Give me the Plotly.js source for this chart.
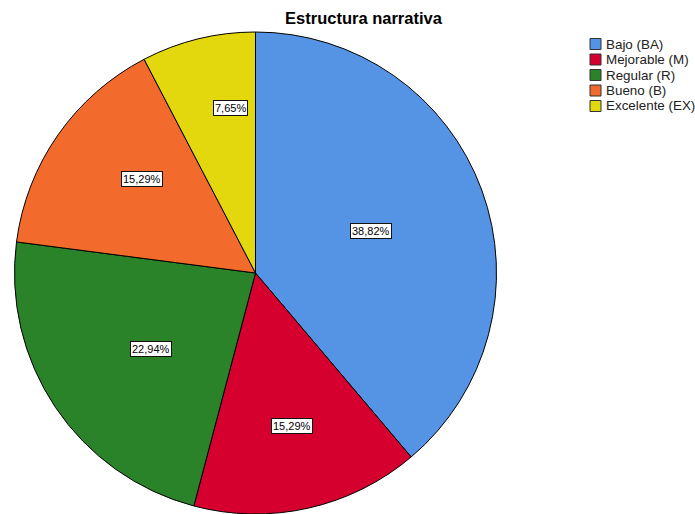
<!DOCTYPE html>
<html>
<head>
<meta charset="utf-8">
<script src="https://cdn.plot.ly/plotly-3.0.1.min.js"></script>
<style>html,body{margin:0;padding:0;background:#fff;}#chart{width:695px;height:514px;}</style>
</head>
<body>
<div id="chart"></div>
<script>
const categories = ["Bajo (BA)", "Mejorable (M)", "Regular (R)", "Bueno (B)", "Excelente (EX)"];
const counts = [66, 26, 39, 26, 13];
const colors = ["#5593E4", "#D5002E", "#2A8229", "#F26B2C", "#E3D70D"];

const W = 695, H = 514;
const domX = [14 / W, 497 / W];
const domY = [0, 1 - 32 / H];
const FONT = "Liberation Sans, Arial, sans-serif";

const total = counts.reduce((a, b) => a + b, 0);
const pctText = counts.map(v => (v / total * 100).toFixed(2).replace(".", ",") + "%");

// percentage boxes placed along each slice's middle angle (derived from the data)
const R = Math.min((domX[1] - domX[0]) * W, (domY[1] - domY[0]) * H) / 2;
const cx = (domX[0] + domX[1]) / 2 * W;
const cy = H - (domY[0] + domY[1]) / 2 * H;
let cum = 0;
const annotations = counts.map((v, i) => {
  const frac = v / total;
  const deg = frac * 360;
  const mid = (cum + frac / 2) * 2 * Math.PI;
  cum += frac;
  const r = R * Math.max(0.45, 0.796 - 0.00205 * deg);
  const px = cx + r * Math.sin(mid);
  const py = cy - r * Math.cos(mid);
  return {
    x: px / W, y: 1 - py / H, xref: "paper", yref: "paper",
    text: pctText[i], showarrow: false,
    font: {family: FONT, size: 11, color: "#000"},
    bgcolor: "#fff", bordercolor: "#111", borderwidth: 1, borderpad: 1
  };
});

// legend (swatch + label for each category)
const shapes = [];
categories.forEach((c, i) => {
  const yc = 44 + i * 15.5;
  shapes.push({
    type: "rect", xref: "paper", yref: "paper",
    x0: 590 / W, x1: 601 / W, y0: 1 - (yc + 5.5) / H, y1: 1 - (yc - 5.5) / H,
    fillcolor: colors[i], line: {color: "#333", width: 1}
  });
  annotations.push({
    x: 604 / W, y: 1 - yc / H, xref: "paper", yref: "paper",
    xanchor: "left", yanchor: "middle", text: c, showarrow: false,
    font: {family: FONT, size: 13.4, color: "#222"}
  });
});

const data = [{
  type: "pie",
  labels: categories,
  values: counts,
  sort: false,
  direction: "clockwise",
  rotation: 0,
  marker: {colors: colors, line: {color: "#000", width: 1}},
  textinfo: "none",
  hoverinfo: "label+percent",
  domain: {x: domX, y: domY}
}];

const layout = {
  width: W, height: H,
  margin: {l: 0, r: 0, t: 0, b: 0},
  paper_bgcolor: "#fff",
  showlegend: false,
  title: {
    text: "<b>Estructura narrativa</b>",
    x: 363.5 / W, xanchor: "center", y: 1 - 18 / H, yanchor: "middle",
    font: {family: FONT, size: 16.5, color: "#000"}
  },
  shapes: shapes,
  annotations: annotations
};

Plotly.newPlot("chart", data, layout, {displayModeBar: false, staticPlot: true});
</script>
</body>
</html>
